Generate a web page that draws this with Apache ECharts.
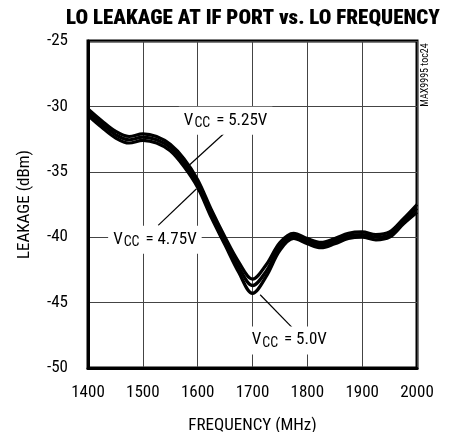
<!DOCTYPE html>
<html>
<head>
<meta charset="utf-8">
<script src="https://cdn.jsdelivr.net/npm/echarts@6/dist/echarts.min.js"></script>
<style>
html,body{margin:0;padding:0;background:#fff;}
#chart{width:450px;height:432px;}
</style>
</head>
<body>
<div id="chart"></div>
<script>
// ---- data ----
const freq =    [1400, 1425, 1450, 1475, 1500, 1525, 1550, 1575, 1600, 1625, 1650, 1675, 1700, 1725, 1750, 1775, 1800, 1825, 1850, 1875, 1900, 1925, 1950, 1975, 2000];
const vcc475 =  [-30.2, -31.1, -31.9, -32.3, -32.1, -32.3, -32.9, -34.0, -35.6, -37.9, -40.0, -41.9, -43.2, -42.1, -40.4, -39.7, -40.1, -40.4, -40.1, -39.7, -39.6, -39.8, -39.6, -38.6, -37.5];
const vcc525 =  [-30.45, -31.35, -32.15, -32.55, -32.35, -32.55, -33.15, -34.3, -35.9, -38.2, -40.3, -42.3, -43.7, -42.6, -40.7, -39.9, -40.3, -40.6, -40.3, -39.9, -39.8, -40.0, -39.8, -38.8, -37.8];
const vcc500 =  [-30.7, -31.6, -32.4, -32.8, -32.6, -32.8, -33.4, -34.6, -36.2, -38.5, -40.6, -42.7, -44.3, -43.0, -41.0, -40.1, -40.5, -40.8, -40.5, -40.1, -40.0, -40.2, -40.0, -39.0, -38.1];

const xTicks = [1400, 1500, 1600, 1700, 1800, 1900, 2000];
const yTicks = [-50, -45, -40, -35, -30, -25];

const annoLabels = ['5.25V', '4.75V', '5.0V'];
const annoTextAt = [[1651, -31.1], [1522, -40.2], [1767, -47.9]];
const annoArrowFrom = [[1650, -32.0], [1528, -39.1], [1772, -46.9]];
const annoArrowTo = [[1582, -34.6], [1598, -36.3], [1714, -44.4]];

const FONT = '"Roboto Condensed", "Liberation Sans Narrow", "DejaVu Sans Condensed", sans-serif';

function pairs(vals) { return freq.map((f, i) => [f, vals[i]]); }

const chart = echarts.init(document.getElementById('chart'), null, {renderer: 'canvas'});

const lineSeries = (name, vals) => ({
  name: name,
  type: 'line',
  data: pairs(vals),
  smooth: 0.35,
  showSymbol: false,
  symbol: 'none',
  lineStyle: {color: '#000', width: 3.2},
  z: 3,
  silent: true
});

const annoSeries = {
  type: 'line',
  data: [],
  silent: true,
  z: 5,
  markLine: {
    silent: true,
    symbol: ['none', 'arrow'],
    symbolSize: [0, 9],
    lineStyle: {color: '#000', width: 1.2, type: 'solid'},
    label: {show: false},
    data: annoArrowFrom.map((p, i) => [{coord: p}, {coord: annoArrowTo[i]}])
  },
  markPoint: {
    silent: true,
    symbol: 'rect',
    symbolSize: 0,
    label: {
      show: true,
      position: 'inside',
      backgroundColor: '#fff',
      padding: [5, 5, 5, 5],
      formatter: p => '{v|V}{s|CC}{v| = ' + p.name + '}',
      rich: {
        v: {fontSize: 17, fontFamily: FONT, color: '#000', verticalAlign: 'top', lineHeight: 18},
        s: {fontSize: 14, fontFamily: FONT, color: '#000', verticalAlign: 'top', lineHeight: 16, padding: [5, 2, 0, 1]}
      }
    },
    data: annoTextAt.map((p, i) => ({name: annoLabels[i], coord: p}))
  }
};

chart.setOption({
  animation: false,
  backgroundColor: '#fff',
  title: {
    text: 'LO LEAKAGE AT IF PORT vs. LO FREQUENCY',
    left: 61,
    top: 3,
    textStyle: {fontFamily: FONT, fontWeight: 900, fontSize: 21, color: '#000'}
  },
  grid: {left: 88, top: 41, right: 33, bottom: 64, show: true, borderColor: '#000', borderWidth: 3, backgroundColor: 'transparent', containLabel: false, outerBoundsMode: 'none'},
  xAxis: {
    type: 'value',
    min: xTicks[0], max: xTicks[xTicks.length - 1], interval: 100,
    name: 'FREQUENCY (MHz)',
    nameLocation: 'middle',
    nameGap: 49,
    nameTextStyle: {fontFamily: FONT, fontSize: 17, color: '#000'},
    axisLine: {show: true, lineStyle: {color: '#000', width: 3}},
    axisTick: {show: false},
    axisLabel: {fontFamily: FONT, fontSize: 17, color: '#000', margin: 16, formatter: v => String(v)},
    splitLine: {show: true, lineStyle: {color: '#444', width: 1}}
  },
  yAxis: {
    type: 'value',
    min: yTicks[0], max: yTicks[yTicks.length - 1], interval: 5,
    name: 'LEAKAGE (dBm)',
    nameLocation: 'middle',
    nameGap: 55,
    nameTextStyle: {fontFamily: FONT, fontSize: 17, color: '#000'},
    axisLine: {show: true, lineStyle: {color: '#000', width: 3}},
    axisTick: {show: false},
    axisLabel: {fontFamily: FONT, fontSize: 17, color: '#000', margin: 20, padding: [8, 0, 0, 0], formatter: v => String(v)},
    splitLine: {show: true, lineStyle: {color: '#444', width: 1}}
  },
  graphic: [{
    type: 'text',
    x: 425, y: 75,
    rotation: Math.PI / 2,
    style: {text: 'MAX9995 toc24', fontFamily: FONT, fontSize: 10, fill: '#000', textAlign: 'center', textVerticalAlign: 'middle'}
  }],
  series: [
    lineSeries('VCC = 4.75V', vcc475),
    lineSeries('VCC = 5.25V', vcc525),
    lineSeries('VCC = 5.0V', vcc500),
    annoSeries
  ]
});
</script>
</body>
</html>
